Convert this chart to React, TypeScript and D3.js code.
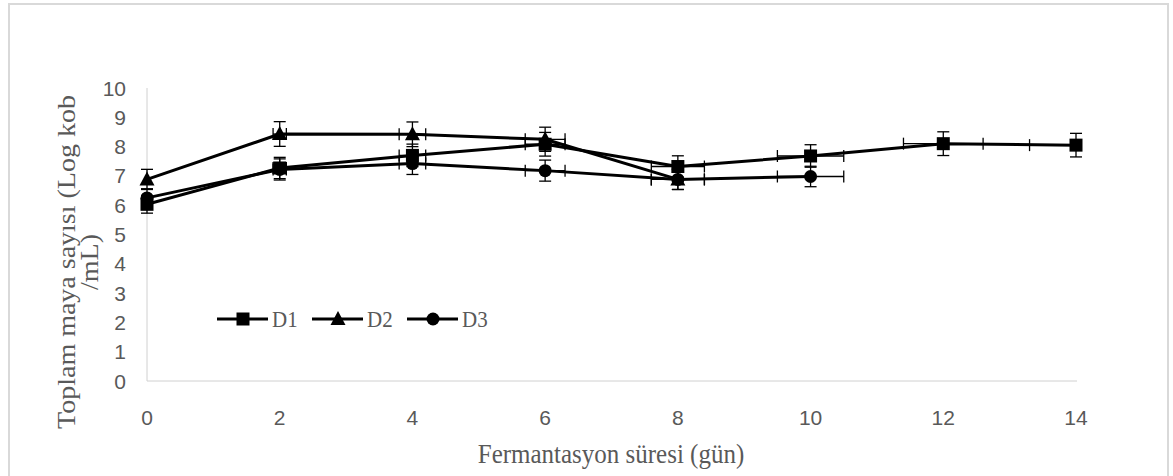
import React from "react";
import * as d3 from "d3";

const days = [0, 2, 4, 6, 8, 10, 12, 14];
const d1Values = [6.03, 7.27, 7.7, 8.08, 7.32, 7.68, 8.1, 8.05];
const d2Values = [6.88, 8.43, 8.42, 8.25, 6.88];
const d3Values = [6.25, 7.22, 7.42, 7.18, 6.88, 6.98];
const seriesNames = ["D1", "D2", "D3"];
const seriesShapes = ["square", "triangle", "circle"];
const yTicks = [0, 1, 2, 3, 4, 5, 6, 7, 8, 9, 10];
const xTicks = [0, 2, 4, 6, 8, 10, 12, 14];
const errorPercent = 0.05; // Excel percentage error bars (x and y)
const xTitle = "Fermantasyon süresi (gün)";
const yTitleLines = ["Toplam maya sayısı (Log kob", "/mL)"];

const W = 1173;
const H = 476;
const x = d3.scaleLinear().domain([0, 14]).range([147, 1076]);
const y = d3.scaleLinear().domain([0, 10]).range([381, 88]);
const TEXT = "#595959";

function Marker({ shape, cx, cy }: { shape: string; cx: number; cy: number }) {
  if (shape === "square")
    return <rect x={cx - 6.5} y={cy - 6.5} width={13} height={13} fill="#000" />;
  if (shape === "triangle") {
    const p = d3.path();
    p.moveTo(cx, cy - 8);
    p.lineTo(cx + 7.5, cy + 6);
    p.lineTo(cx - 7.5, cy + 6);
    p.closePath();
    return <path d={p.toString()} fill="#000" />;
  }
  return <circle cx={cx} cy={cy} r={6.5} fill="#000" />;
}

export default function App() {
  const allSeries = [d1Values, d2Values, d3Values];
  const line = d3
    .line<number>()
    .x((_, i) => x(days[i]))
    .y((v) => y(v));
  const xMax = x(14);
  const cap = 6;

  return (
    <svg
      width={W}
      height={H}
      style={{ position: "absolute", left: 0, top: 0, background: "#fff" }}
    >
      <rect x={9} y={4} width={1159} height={H + 10} fill="#fff" stroke="#d9d9d9" strokeWidth={2} />

      {/* axes */}
      <line x1={x(0)} x2={x(0)} y1={y(10)} y2={y(0)} stroke="#d0d0d0" strokeWidth={1} />
      <line x1={x(0)} x2={xMax + 1} y1={y(0)} y2={y(0)} stroke="#d0d0d0" strokeWidth={1} />

      {yTicks.map((t) => (
        <text
          key={"y" + t}
          x={126}
          y={y(t)}
          dy="0.36em"
          textAnchor="end"
          fontFamily="'Liberation Sans', Arial, sans-serif"
          fontSize={21}
          fill={TEXT}
        >
          {t}
        </text>
      ))}
      {xTicks.map((t) => (
        <text
          key={"x" + t}
          x={x(t)}
          y={417}
          dy="0.36em"
          textAnchor="middle"
          fontFamily="'Liberation Sans', Arial, sans-serif"
          fontSize={21}
          fill={TEXT}
        >
          {t}
        </text>
      ))}

      {/* titles */}
      <text
        x={611}
        y={463}
        textAnchor="middle"
        fontFamily="'Liberation Serif', 'Times New Roman', serif"
        fontSize={25}
        fill={TEXT}
        transform={`translate(0, ${463 * -0.12}) scale(1, 1.12)`}
      >
        {xTitle}
      </text>
      <g transform="translate(66, 262) rotate(-90)">
        {yTitleLines.map((s, i) => (
          <text
            key={i}
            x={0}
            y={i * 23}
            dy="0.35em"
            textAnchor="middle"
            fontFamily="'Liberation Serif', 'Times New Roman', serif"
            fontSize={25}
            fill={TEXT}
            transform="scale(1.12, 1)"
          >
            {s}
          </text>
        ))}
      </g>

      {/* lines */}
      {allSeries.map((vals, si) => (
        <path key={"l" + si} d={line(vals) || ""} fill="none" stroke="#000" strokeWidth={3} strokeLinejoin="round" />
      ))}

      {/* error bars */}
      {allSeries.map((vals, si) =>
        vals.map((v, i) => {
          const cx = x(days[i]);
          const cy = y(v);
          const ey = v * errorPercent;
          const ex = days[i] * errorPercent;
          const y1 = y(v + ey);
          const y2 = y(v - ey);
          const xl = x(days[i] - ex);
          const xr = x(days[i] + ex);
          return (
            <g key={`e${si}-${i}`} stroke="#000" strokeWidth={1.3}>
              <line x1={cx} x2={cx} y1={y1} y2={y2} />
              <line x1={cx - cap} x2={cx + cap} y1={y1} y2={y1} />
              <line x1={cx - cap} x2={cx + cap} y1={y2} y2={y2} />
              {ex > 0 && (
                <>
                  <line x1={xl} x2={Math.min(xr, xMax)} y1={cy} y2={cy} />
                  <line x1={xl} x2={xl} y1={cy - cap} y2={cy + cap} />
                  {xr <= xMax + 0.5 && <line x1={xr} x2={xr} y1={cy - cap} y2={cy + cap} />}
                </>
              )}
            </g>
          );
        })
      )}

      {/* markers */}
      {allSeries.map((vals, si) =>
        vals.map((v, i) => (
          <Marker key={`m${si}-${i}`} shape={seriesShapes[si]} cx={x(days[i])} cy={y(v)} />
        ))
      )}

      {/* legend */}
      {seriesNames.map((name, i) => {
        const lx = 217 + i * 95;
        return (
          <g key={"lg" + i}>
            <line x1={lx} x2={lx + 51} y1={319} y2={319} stroke="#000" strokeWidth={3} />
            <Marker shape={seriesShapes[i]} cx={lx + 26} cy={319} />
            <text
              x={lx + 55}
              y={327}
              fontFamily="'Liberation Serif', 'Times New Roman', serif"
              fontSize={21}
              fill={TEXT}
              transform={`translate(0, ${327 * -0.12}) scale(1, 1.12)`}
            >
              {name}
            </text>
          </g>
        );
      })}
    </svg>
  );
}
